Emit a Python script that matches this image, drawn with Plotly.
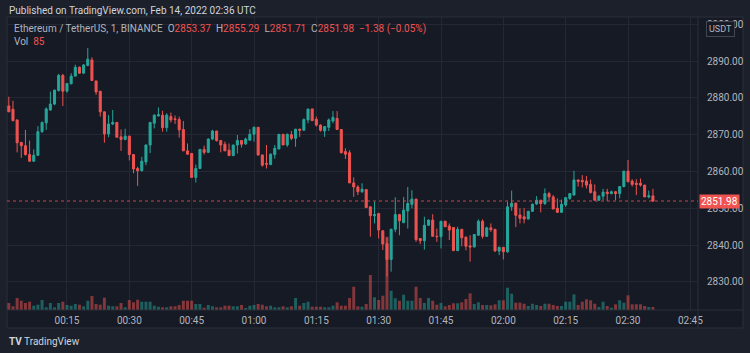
import plotly.graph_objects as go
import pandas as pd

# ---------------- data (1-minute ETH/USDT, 2022-02-14 00:01 .. 02:36) ----------------
start_time = "2022-02-14 00:01"
opens = [2877.8, 2876.9, 2874.0, 2867.9, 2867.0, 2864.6, 2862.8, 2864.4, 2870.8, 2873.2,
         2876.7, 2878.3, 2882.0, 2886.1, 2881.8, 2883.8, 2885.9, 2888.3, 2886.7, 2888.8,
         2890.3, 2884.6, 2881.8, 2876.2, 2870.2, 2872.9, 2873.3, 2869.4, 2868.7, 2869.6,
         2864.6, 2860.8, 2860.2, 2862.6, 2867.2, 2873.1, 2875.1, 2875.3, 2871.9, 2874.9,
         2874.3, 2874.1, 2871.4, 2865.6, 2864.9, 2858.4, 2860.8, 2866.0, 2865.2, 2868.8,
         2871.0, 2868.4, 2867.4, 2865.8, 2864.3, 2867.2, 2868.4, 2867.5, 2868.5, 2870.1,
         2872.0, 2864.5, 2862.2, 2861.9, 2864.6, 2866.1, 2870.1, 2867.2, 2870.0, 2869.0,
         2871.5, 2871.2, 2874.0, 2877.0, 2874.2, 2872.6, 2871.0, 2872.0, 2873.7, 2874.4,
         2871.4, 2865.4, 2865.1, 2856.9, 2855.8, 2854.5, 2855.1, 2850.4, 2848.0, 2848.6,
         2843.9, 2840.4, 2836.1, 2844.3, 2848.3, 2846.1, 2849.3, 2851.1, 2852.5, 2841.8,
         2841.2, 2845.4, 2846.8, 2842.4, 2842.3, 2846.5, 2845.2, 2844.8, 2838.5, 2844.3,
         2842.2, 2839.8, 2839.5, 2842.7, 2846.5, 2842.4, 2844.7, 2844.3, 2838.4, 2839.4,
         2838.2, 2850.4, 2851.4, 2848.2, 2847.7, 2847.1, 2849.2, 2851.2, 2852.2, 2851.3,
         2854.0, 2853.1, 2850.0, 2848.9, 2850.9, 2852.7, 2853.6, 2857.7, 2857.6, 2857.4,
         2856.5, 2854.5, 2852.2, 2853.3, 2854.4, 2854.0, 2854.5, 2854.0, 2855.9, 2860.1,
         2857.4, 2856.8, 2856.8, 2856.3, 2853.1, 2853.37]
highs = [2880.3, 2879.2, 2874.1, 2868.0, 2871.3, 2868.4, 2866.0, 2872.3, 2873.6, 2877.4,
         2881.7, 2882.2, 2886.5, 2886.5, 2884.0, 2886.7, 2889.0, 2888.5, 2889.2, 2893.5,
         2891.0, 2884.6, 2881.8, 2876.3, 2875.3, 2876.7, 2873.5, 2871.4, 2871.6, 2869.7,
         2864.7, 2861.3, 2864.0, 2867.3, 2873.5, 2875.5, 2877.4, 2876.5, 2875.8, 2876.0,
         2875.2, 2874.9, 2873.7, 2867.6, 2865.0, 2861.9, 2866.0, 2867.0, 2869.0, 2871.3,
         2871.0, 2868.5, 2868.1, 2867.6, 2867.2, 2869.9, 2868.5, 2869.2, 2871.5, 2872.2,
         2872.0, 2864.5, 2867.2, 2864.9, 2867.2, 2870.1, 2870.1, 2870.3, 2871.0, 2871.5,
         2871.6, 2874.4, 2877.0, 2877.0, 2874.9, 2872.8, 2872.3, 2874.4, 2876.4, 2876.4,
         2871.5, 2866.3, 2865.8, 2858.4, 2856.3, 2856.8, 2855.2, 2850.5, 2851.8, 2848.7,
         2844.0, 2842.0, 2844.5, 2853.0, 2848.5, 2853.1, 2855.8, 2854.9, 2852.6, 2841.9,
         2847.7, 2847.0, 2848.4, 2844.5, 2846.5, 2846.6, 2845.9, 2844.9, 2845.0, 2844.4,
         2842.3, 2842.7, 2843.0, 2847.0, 2847.0, 2845.0, 2845.9, 2844.4, 2839.6, 2839.5,
         2851.8, 2854.8, 2851.5, 2850.0, 2850.0, 2849.3, 2851.3, 2853.3, 2852.3, 2855.4,
         2854.5, 2853.6, 2852.7, 2852.4, 2852.9, 2854.0, 2860.2, 2857.8, 2859.0, 2858.8,
         2857.8, 2856.5, 2853.6, 2855.3, 2855.3, 2854.8, 2854.7, 2855.9, 2860.1, 2863.1,
         2857.9, 2857.9, 2858.1, 2856.4, 2854.8, 2855.29]
lows = [2876.2, 2873.6, 2865.2, 2863.7, 2864.3, 2862.6, 2862.6, 2864.2, 2870.5, 2871.3,
        2876.5, 2878.0, 2881.7, 2877.8, 2881.4, 2883.7, 2885.8, 2886.5, 2886.5, 2888.6,
        2884.7, 2880.8, 2874.9, 2867.8, 2869.3, 2872.6, 2869.2, 2865.6, 2868.5, 2863.0,
        2859.5, 2856.1, 2860.0, 2861.7, 2865.0, 2871.7, 2874.9, 2870.8, 2870.8, 2873.3,
        2872.9, 2869.2, 2865.6, 2864.6, 2858.3, 2857.0, 2860.8, 2864.6, 2865.0, 2868.5,
        2868.1, 2865.2, 2865.6, 2864.3, 2864.3, 2864.9, 2866.5, 2867.2, 2868.5, 2868.1,
        2864.3, 2861.3, 2860.8, 2861.7, 2863.5, 2866.1, 2867.2, 2866.7, 2868.5, 2866.7,
        2869.4, 2871.0, 2873.1, 2873.8, 2872.2, 2870.8, 2869.4, 2871.0, 2873.1, 2871.4,
        2864.9, 2863.4, 2856.9, 2853.1, 2853.6, 2854.2, 2850.2, 2842.3, 2845.9, 2841.8,
        2838.7, 2831.5, 2832.8, 2843.5, 2842.7, 2846.0, 2844.5, 2850.0, 2840.9, 2840.3,
        2838.8, 2845.2, 2842.4, 2840.9, 2839.1, 2845.0, 2841.4, 2838.5, 2838.4, 2839.7,
        2838.6, 2835.5, 2839.4, 2842.5, 2841.8, 2842.2, 2843.6, 2838.2, 2837.3, 2836.1,
        2837.9, 2849.3, 2844.9, 2845.9, 2845.9, 2847.0, 2849.1, 2850.9, 2848.9, 2850.9,
        2852.2, 2849.8, 2848.9, 2848.8, 2850.4, 2852.3, 2853.5, 2855.9, 2855.7, 2855.4,
        2854.0, 2852.2, 2852.0, 2852.2, 2852.0, 2853.8, 2852.2, 2852.7, 2855.7, 2857.2,
        2855.9, 2853.6, 2855.9, 2853.0, 2852.7, 2851.71]
closes = [2876.2, 2873.8, 2867.8, 2867.0, 2864.6, 2862.8, 2864.4, 2870.8, 2873.3, 2877.0,
          2878.3, 2882.1, 2886.1, 2881.8, 2883.9, 2885.9, 2888.3, 2886.7, 2888.9, 2890.5,
          2884.7, 2881.6, 2876.2, 2870.2, 2872.9, 2873.3, 2869.3, 2868.7, 2869.6, 2864.6,
          2860.7, 2860.2, 2862.8, 2867.2, 2873.3, 2875.3, 2875.4, 2871.9, 2875.3, 2874.0,
          2874.1, 2871.3, 2865.6, 2864.7, 2858.4, 2860.8, 2866.0, 2865.2, 2868.8, 2871.0,
          2868.4, 2867.2, 2865.6, 2864.3, 2867.2, 2868.4, 2867.4, 2868.8, 2870.1, 2872.0,
          2864.5, 2861.7, 2862.0, 2864.7, 2866.3, 2870.1, 2867.2, 2870.1, 2869.0, 2871.5,
          2871.2, 2874.1, 2876.96, 2873.8, 2872.6, 2871.2, 2872.2, 2874.0, 2874.7, 2871.4,
          2865.1, 2864.7, 2856.9, 2855.8, 2854.5, 2855.2, 2850.2, 2848.0, 2848.3, 2844.1,
          2840.3, 2836.1, 2844.3, 2848.3, 2846.6, 2849.5, 2851.3, 2852.5, 2841.5, 2841.2,
          2845.4, 2846.8, 2842.4, 2842.3, 2846.5, 2845.0, 2844.1, 2838.5, 2844.3, 2842.0,
          2839.7, 2839.5, 2842.9, 2846.5, 2842.4, 2844.7, 2844.2, 2838.4, 2839.4, 2838.2,
          2850.4, 2851.4, 2848.1, 2847.3, 2847.1, 2849.2, 2851.1, 2852.2, 2851.3, 2854.0,
          2853.1, 2849.8, 2848.9, 2851.1, 2852.9, 2854.0, 2857.7, 2857.3, 2857.2, 2856.3,
          2854.3, 2852.2, 2853.3, 2854.4, 2854.0, 2854.5, 2854.0, 2855.9, 2860.1, 2857.2,
          2856.5, 2856.5, 2856.3, 2853.1, 2853.4, 2851.98]
volumes = [198, 105, 340, 263, 198, 235, 122, 150, 283, 76,
           198, 76, 198, 235, 142, 122, 170, 150, 105, 263,
           396, 170, 150, 348, 122, 105, 105, 198, 76, 283,
           218, 291, 235, 235, 235, 122, 93, 76, 76, 105,
           105, 142, 263, 263, 263, 170, 170, 65, 142, 105,
           76, 76, 122, 122, 105, 105, 142, 57, 122, 142,
           170, 150, 105, 122, 76, 76, 105, 76, 105, 340,
           122, 198, 235, 93, 93, 93, 76, 76, 122, 218,
           122, 122, 340, 659, 105, 93, 170, 990, 359, 283,
           405, 2074, 546, 331, 263, 433, 263, 263, 659, 340,
           198, 340, 263, 150, 198, 105, 142, 190, 190, 218,
           311, 473, 170, 218, 142, 142, 133, 161, 275, 275,
           631, 461, 207, 207, 178, 113, 178, 142, 113, 178,
           178, 142, 113, 113, 235, 235, 444, 142, 235, 303,
           275, 178, 85, 235, 113, 65, 161, 275, 207, 416,
           161, 161, 161, 113, 85, 85]
time_ticks = ["00:15", "00:30", "00:45", "01:00", "01:15", "01:30",
              "01:45", "02:00", "02:15", "02:30", "02:45"]
price_ticks = [2830, 2840, 2850, 2860, 2870, 2880, 2890, 2900]
last_price = 2851.98

# ---------------- styling ----------------
UP = "#26a69a"
DOWN = "#ef5350"
UP_VOL = "rgba(38,166,154,0.5)"
DOWN_VOL = "rgba(239,83,80,0.5)"
BG = "#161a25"
OUTER = "#1c202b"
GRID = "#242834"
TXT = "#b2b5be"
FONT = "Roboto"

times = pd.date_range(start_time, periods=len(opens), freq="1min")
vol_colors = [UP_VOL if c >= o else DOWN_VOL for o, c in zip(opens, closes)]

fig = go.Figure()
fig.add_trace(go.Bar(x=times, y=volumes, marker=dict(color=vol_colors, line_width=0),
                     yaxis="y", hoverinfo="skip", showlegend=False))
fig.add_trace(go.Candlestick(
    x=times, open=opens, high=highs, low=lows, close=closes, yaxis="y2",
    increasing=dict(line=dict(color=UP, width=1), fillcolor=UP),
    decreasing=dict(line=dict(color=DOWN, width=1), fillcolor=DOWN),
    whiskerwidth=0, showlegend=False))

W, H = 750, 353
L, R, T, B = 7, 698, 17, 310  # plot area in pixels


def px(x):
    return (x - L) / (R - L)


def py(y):
    return (B - y) / (B - T)


def price_at(ypix):
    return 2890 - (ypix - 61) / 3.683


tick_dt = [pd.Timestamp("2022-02-14 " + t) for t in time_ticks]
x0 = pd.Timestamp("2022-02-14 00:15") - pd.Timedelta(minutes=(67 - L) / 4.156)
x1 = pd.Timestamp("2022-02-14 02:30") + pd.Timedelta(minutes=(R - 628) / 4.156)

fig.update_layout(
    width=W, height=H,
    margin=dict(l=L, r=W - R, t=T, b=H - B),
    paper_bgcolor=OUTER, plot_bgcolor=BG,
    font=dict(family=FONT, size=10, color=TXT),
    bargap=0.28,
    showlegend=False,
    xaxis=dict(
        type="date", range=[x0, x1], rangeslider=dict(visible=False),
        tickvals=tick_dt, ticktext=time_ticks, showgrid=True, gridcolor=GRID,
        gridwidth=1, zeroline=False, showline=False, ticks="",
        ticklabelstandoff=3,
        tickfont=dict(size=10, color=TXT)),
    yaxis=dict(range=[0, 28.3 * (B - T)], visible=False, showgrid=False,
               fixedrange=True),
    yaxis2=dict(
        overlaying="y", side="right",
        range=[price_at(B), price_at(T)],
        tickvals=price_ticks, ticktext=[f"{p:.2f}" for p in price_ticks],
        showgrid=True, gridcolor=GRID, gridwidth=1, zeroline=False,
        showline=False, ticks="", ticklabelstandoff=8,
        tickfont=dict(size=10, color=TXT)),
)

# panel frame, separators
fig.add_shape(type="rect", xref="paper", yref="paper",
              x0=px(7), x1=px(743), y0=py(328), y1=py(17),
              fillcolor=BG, line=dict(color="#2a2e39", width=1), layer="below")
fig.add_shape(type="line", xref="paper", yref="paper",
              x0=px(7), x1=px(743), y0=0, y1=0, line=dict(color="#2a2e39", width=1))
fig.add_shape(type="line", xref="paper", yref="paper",
              x0=1, x1=1, y0=py(328), y1=1, line=dict(color="#2a2e39", width=1))

# last price dotted line
fig.add_shape(type="line", xref="paper", yref="y2", x0=0, x1=1,
              y0=last_price, y1=last_price,
              line=dict(color=DOWN, width=1, dash="dot"), opacity=0.8)

# last price label
fig.add_annotation(xref="paper", yref="y2", x=1, y=last_price, xanchor="left",
                   yanchor="middle", text=f"{last_price:.2f}", showarrow=False,
                   bgcolor=DOWN, font=dict(color="#ffffff", size=10, family=FONT),
                   borderpad=1, xshift=1)

# USDT label
fig.add_annotation(xref="paper", yref="paper", x=px(735), y=py(29), xanchor="right",
                   yanchor="middle", text="USDT", showarrow=False, bgcolor=BG,
                   bordercolor="#434651", borderwidth=1, borderpad=2,
                   font=dict(color=TXT, size=9, family=FONT))

# header
fig.add_annotation(xref="paper", yref="paper", x=px(7), y=py(10), xanchor="left",
                   yanchor="middle", showarrow=False,
                   text="Published on TradingView.com, Feb 14, 2022 02:36 UTC",
                   font=dict(color="#d1d4dc", size=10, family=FONT))

red = f"color:{DOWN}"
legend = (f"Ethereum / TetherUS, 1, BINANCE  O<span style='{red}'>2853.37</span>"
          f"  H<span style='{red}'>2855.29</span>  L<span style='{red}'>2851.71</span>"
          f"  C<span style='{red}'>2851.98</span>  <span style='{red}'>−1.38 (−0.05%)</span>")
fig.add_annotation(xref="paper", yref="paper", x=px(12), y=py(29), xanchor="left",
                   yanchor="middle", showarrow=False, text=legend,
                   font=dict(color=TXT, size=10, family=FONT))
fig.add_annotation(xref="paper", yref="paper", x=px(12), y=py(41), xanchor="left",
                   yanchor="middle", showarrow=False,
                   text=f"Vol  <span style='{red}'>85</span>",
                   font=dict(color=TXT, size=10, family=FONT))

# footer
fig.add_annotation(xref="paper", yref="paper", x=px(7), y=py(341), xanchor="left",
                   yanchor="middle", showarrow=False,
                   text="<b>TV</b> TradingView",
                   font=dict(color="#d1d4dc", size=10, family=FONT))

fig.write_html("out.html")
